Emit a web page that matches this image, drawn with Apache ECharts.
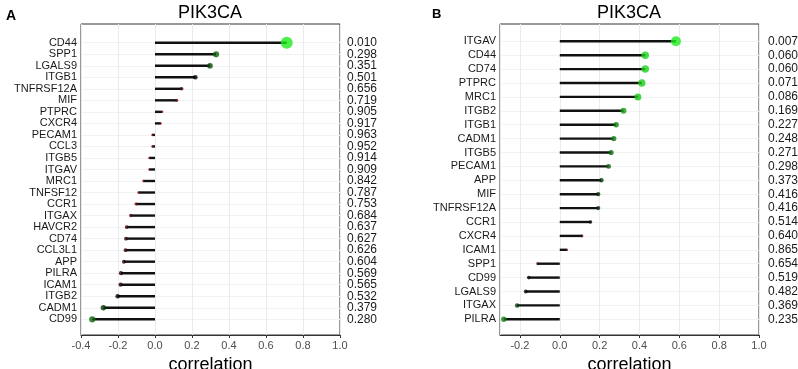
<!DOCTYPE html>
<html>
<head>
<meta charset="utf-8">
<script src="https://cdn.jsdelivr.net/npm/echarts@6/dist/echarts.min.js"></script>
<style>
  html, body { margin: 0; padding: 0; background: #fff; }
  #box { width: 798px; height: 369px; }
</style>
</head>
<body>
<div id="box"></div>
<script>
// panel A
var genesA = ['CD44', 'SPP1', 'LGALS9', 'ITGB1', 'TNFRSF12A', 'MIF', 'PTPRC', 'CXCR4', 'PECAM1', 'CCL3',
	'ITGB5', 'ITGAV', 'MRC1', 'TNFSF12', 'CCR1', 'ITGAX', 'HAVCR2', 'CD74', 'CCL3L1', 'APP',
	'PILRA', 'ICAM1', 'ITGB2', 'CADM1', 'CD99'];
var corA = [0.712, 0.330, 0.297, 0.218, 0.144, 0.117, 0.040, 0.032, -0.016, -0.016,
	-0.032, -0.032, -0.063, -0.088, -0.103, -0.131, -0.153, -0.157, -0.159, -0.168,
	-0.184, -0.186, -0.202, -0.279, -0.339];
var pA = ['0.010', '0.298', '0.351', '0.501', '0.656', '0.719', '0.905', '0.917', '0.963', '0.952',
	'0.914', '0.909', '0.842', '0.787', '0.753', '0.684', '0.637', '0.627', '0.626', '0.604',
	'0.569', '0.565', '0.532', '0.379', '0.280'];

// panel B
var genesB = ['ITGAV', 'CD44', 'CD74', 'PTPRC', 'MRC1', 'ITGB2', 'ITGB1', 'CADM1', 'ITGB5', 'PECAM1',
	'APP', 'MIF', 'TNFRSF12A', 'CCR1', 'CXCR4', 'ICAM1', 'SPP1', 'CD99', 'LGALS9', 'ITGAX', 'PILRA'];
var corB = [0.583, 0.429, 0.429, 0.412, 0.392, 0.320, 0.283, 0.271, 0.258, 0.245,
	0.209, 0.193, 0.193, 0.154, 0.111, 0.037, -0.111, -0.156, -0.171, -0.214, -0.281];
var pB = ['0.007', '0.060', '0.060', '0.071', '0.086', '0.169', '0.227', '0.248', '0.271', '0.298',
	'0.373', '0.416', '0.416', '0.514', '0.640', '0.865', '0.654', '0.519', '0.482', '0.369', '0.235'];

var FONT = 'Liberation Sans, Arial, sans-serif';

// green (low p) -> black (0.5) -> red (high p)
function pColor(p) {
	var t;
	if (p < 0.5) {
		t = (0.5 - p) / 0.5;
		return 'rgb(' + Math.round(30 * t) + ',' + Math.round(240 * t) + ',' + Math.round(30 * t) + ')';
	}
	t = (p - 0.5) / 0.5;
	return 'rgb(' + Math.round(200 * t) + ',' + Math.round(20 * t) + ',' + Math.round(20 * t) + ')';
}

function dots(genes, cor, pv, k) {
	var out = [];
	for (var i = 0; i < genes.length; i++) {
		var p = parseFloat(pv[i]);
		out.push({
			value: [cor[i], genes[i]],
			symbolSize: Math.max(2, k * Math.sqrt(-Math.log10(p))),
			itemStyle: { color: pColor(p) }
		});
	}
	return out;
}

var myChart = echarts.init(document.getElementById('box'));

function tickLabel(extra) {
	var lab = { fontSize: 11, color: '#4d4d4d', margin: 5, fontFamily: FONT,
		formatter: function (v) { return v.toFixed(1); } };
	for (var key in extra) lab[key] = extra[key];
	return lab;
}

function boxX(gi, min, opts) {
	var ax = {
		type: 'value', gridIndex: gi, min: min, max: 1.0,
		name: 'correlation', nameLocation: 'middle', nameGap: 18,
		nameTextStyle: { fontSize: 18, color: '#000', fontFamily: FONT },
		axisLine: { show: true, lineStyle: { color: '#333', width: 1 } },
		axisTick: { show: true, length: 3, lineStyle: { color: '#333' } },
		axisLabel: tickLabel({}),
		splitLine: { show: true, lineStyle: { color: '#ebebeb', width: 1 } }
	};
	for (var key in opts) ax[key] = opts[key];
	return ax;
}

function hiddenX(gi, min) {
	return { type: 'value', gridIndex: gi, min: min, max: 1.0, show: false };
}

function geneY(gi, genes) {
	return {
		type: 'category', gridIndex: gi, data: genes, inverse: true, boundaryGap: false,
		axisLine: { show: false }, axisTick: { show: false },
		axisLabel: { interval: 0, fontSize: 11, color: '#1a1a1a', margin: 4, fontFamily: FONT },
		splitLine: { show: true, interval: 0, lineStyle: { color: '#f2f2f2', width: 1 } }
	};
}

function pY(gi, pv, margin) {
	return {
		type: 'category', gridIndex: gi, data: pv, inverse: true, boundaryGap: false, position: 'right',
		axisLine: { show: false }, axisTick: { show: false }, splitLine: { show: false },
		axisLabel: { interval: 0, fontSize: 12, color: '#1a1a1a', margin: margin, fontFamily: FONT }
	};
}

var option = {
	animation: false,
	title: [
		{ text: 'A', left: 6, top: 9, padding: 0, textStyle: { fontSize: 14, fontWeight: 'bold', color: '#000', fontFamily: FONT } },
		{ text: 'PIK3CA', left: 210, top: 4, padding: 0, textAlign: 'center',
			textStyle: { fontSize: 18, fontWeight: 'normal', color: '#000', fontFamily: FONT } },
		{ text: 'B', left: 432, top: 8, padding: 0, textStyle: { fontSize: 13, fontWeight: 'bold', color: '#000', fontFamily: FONT } },
		{ text: 'PIK3CA', left: 629, top: 4, padding: 0, textAlign: 'center',
			textStyle: { fontSize: 18, fontWeight: 'normal', color: '#000', fontFamily: FONT } }
	],
	grid: [
		// A box, A data, B box, B data
		{ left: 81, right: 458, top: 24, bottom: 34, show: true, borderColor: '#333', borderWidth: 1, outerBoundsMode: 'none' },
		{ left: 81, right: 458, top: 42.7, bottom: 49.7, outerBoundsMode: 'none' },
		{ left: 500, right: 39, top: 24, bottom: 34, show: true, borderColor: '#333', borderWidth: 1, outerBoundsMode: 'none' },
		{ left: 500, right: 39, top: 41.3, bottom: 49.7, outerBoundsMode: 'none' }
	],
	xAxis: [
		boxX(0, -0.4, { interval: 0.2 }),
		hiddenX(1, -0.4),
		boxX(2, -0.3, { splitNumber: 6, axisLabel: tickLabel({ showMinLabel: false }) }),
		hiddenX(3, -0.3)
	],
	yAxis: [
		{ type: 'value', gridIndex: 0, show: false },
		geneY(1, genesA),
		pY(1, pA, 7),
		{ type: 'value', gridIndex: 2, show: false },
		geneY(3, genesB),
		pY(3, pB, 9)
	],
	series: [
		{ type: 'bar', xAxisIndex: 1, yAxisIndex: 1, data: corA, barWidth: 2.4,
			itemStyle: { color: '#111' }, z: 2 },
		{ type: 'scatter', xAxisIndex: 1, yAxisIndex: 1, data: dots(genesA, corA, pA, 8.5), z: 3 },
		{ type: 'bar', xAxisIndex: 3, yAxisIndex: 4, data: corB, barWidth: 2.4,
			itemStyle: { color: '#111' }, z: 2 },
		{ type: 'scatter', xAxisIndex: 3, yAxisIndex: 4, data: dots(genesB, corB, pB, 6.8), z: 3 }
	]
};
myChart.setOption(option);
</script>
</body>
</html>
